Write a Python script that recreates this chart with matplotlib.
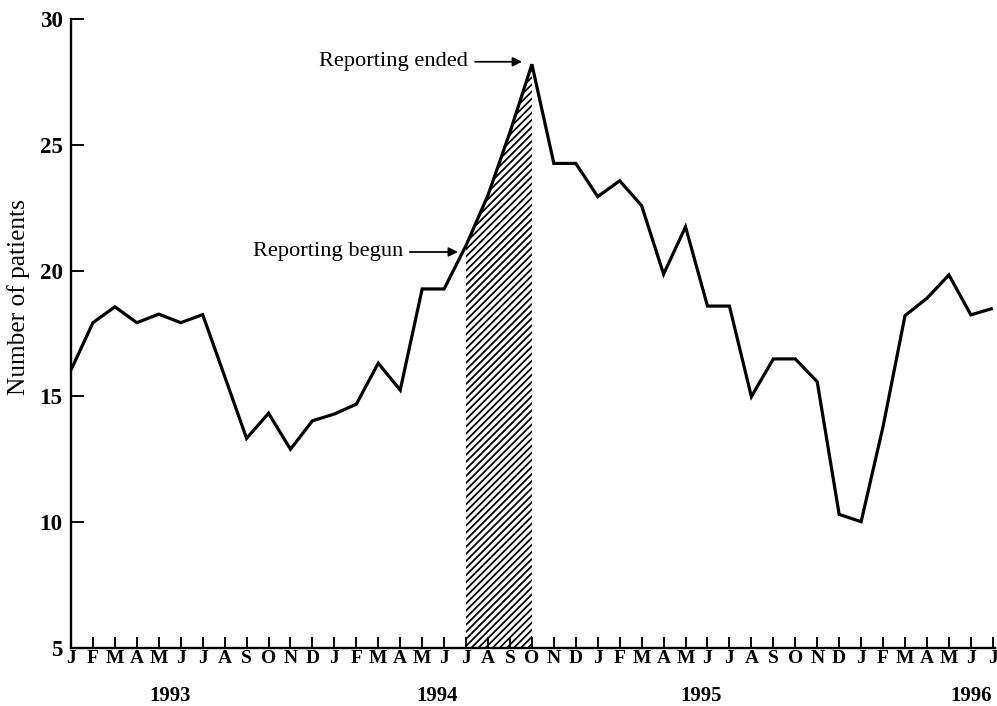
import matplotlib
matplotlib.use("Agg")
import matplotlib.pyplot as plt
from matplotlib.transforms import blended_transform_factory

# Monthly counts, January 1993 through July 1996
month_labels = (["J", "F", "M", "A", "M", "J", "J", "A", "S", "O", "N", "D"] * 3
                + ["J", "F", "M", "A", "M", "J", "J"])
patients = [
    16.05, 17.93, 18.56, 17.93, 18.27, 17.93, 18.25, 15.8, 13.33, 14.33, 12.9, 14.03,   # 1993
    14.3, 14.69, 16.32, 15.25, 19.27, 19.27, 21.0, 23.0, 25.5, 28.2, 24.26, 24.26,      # 1994
    22.94, 23.57, 22.58, 19.86, 21.74, 18.59, 18.59, 14.99, 16.49, 16.49, 15.58, 10.31,  # 1995
    10.02, 13.80, 18.21, 18.90, 19.83, 18.24, 18.50,                                     # 1996
]
years = ["1993", "1994", "1995", "1996"]
year_centers = [4.5, 16.7, 28.7, 41.0]
report_start, report_end = 18, 21   # July 1994 .. October 1994
y_ticks = [5, 10, 15, 20, 25, 30]

DPI = 85
plt.rcParams["font.family"] = ["Liberation Serif", "DejaVu Serif"]
plt.rcParams["hatch.linewidth"] = 1.5

fig = plt.figure(figsize=(998 / DPI, 706 / DPI), dpi=DPI)
ax = fig.add_axes([71 / 998, 58 / 706, (995 - 71) / 998, (648 - 19) / 706])

x = list(range(len(patients)))
ax.plot(x, patients, color="black", lw=2.7, solid_joinstyle="miter",
        solid_capstyle="butt", zorder=3, clip_on=False)

# Hatched reporting period under the curve
xs = x[report_start:report_end + 1]
ys = patients[report_start:report_end + 1]
ax.fill_between(xs, 5, ys, facecolor="none", edgecolor="black", hatch="////",
                linewidth=0, zorder=2)

ax.set_xlim(0, 42.1)
ax.set_ylim(5, 30)

for side in ("top", "right"):
    ax.spines[side].set_visible(False)
for side in ("left", "bottom"):
    ax.spines[side].set_linewidth(2.0)

ax.set_xticks(x)
ax.set_xticklabels(month_labels, fontsize=16.5, fontweight="bold")
ax.tick_params(axis="x", direction="in", length=9.3, width=1.6, pad=2.0)
ax.set_yticks(y_ticks)
ax.set_yticklabels([str(v) for v in y_ticks], fontsize=19.5, fontweight="bold")
ax.tick_params(axis="y", direction="in", length=10.8, width=1.6, pad=7.0)

trans = blended_transform_factory(ax.transData, fig.transFigure)
for label, xc in zip(years, year_centers):
    ax.text(xc, 1 - 696 / 706, label, transform=trans, ha="center", va="center",
            fontsize=17.5, fontweight="bold")

fig.text(19 / 998, 1 - 297 / 706, "Number of patients", rotation=90,
         ha="center", va="center", fontsize=21.5)

# Annotations for the reporting window
arrow = dict(arrowstyle="-|>", color="black", lw=1.5, mutation_scale=16,
             shrinkA=0, shrinkB=0)
ax.text(18.09, 28.3, "Reporting ended", ha="right", va="center", fontsize=19)
ax.annotate("", xy=(20.55, 28.3), xytext=(18.41, 28.3), arrowprops=arrow)
ax.text(15.13, 20.74, "Reporting begun", ha="right", va="center", fontsize=19)
ax.annotate("", xy=(17.63, 20.74), xytext=(15.44, 20.74), arrowprops=arrow)

fig.savefig("out.png", dpi=DPI, facecolor="white")
